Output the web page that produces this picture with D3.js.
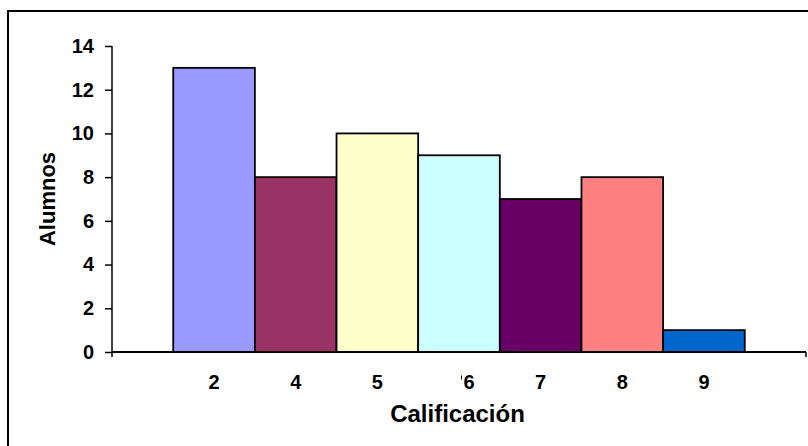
<!DOCTYPE html>
<html>
<head>
<meta charset="utf-8">
<script src="https://cdn.jsdelivr.net/npm/d3@7"></script>
<style>
  html, body { margin: 0; padding: 0; background: #fff; }
  svg { display: block; }
  text { font-family: "Liberation Sans", Arial, sans-serif; font-weight: bold; fill: #000; }
</style>
</head>
<body>
<svg id="chart" width="808" height="446"></svg>
<script>
const categories = ["2", "4", "5", "6", "7", "8", "9"];
const alumnos = [13, 8, 10, 9, 7, 8, 1];
const barColors = ["#9999FF", "#993366", "#FFFFCC", "#CCFFFF", "#660066", "#FF8080", "#0066CC"];
const yTicks = [0, 2, 4, 6, 8, 10, 12, 14];
const xTitle = "Calificación";
const yTitle = "Alumnos";

const svg = d3.select("#chart");

// outer chart frame (extends past the visible area on right and bottom)
svg.append("rect")
  .attr("x", 8).attr("y", 11)
  .attr("width", 900).attr("height", 600)
  .attr("fill", "none").attr("stroke", "#000").attr("stroke-width", 2);

const plotLeft = 112, plotRight = 806, plotTop = 46, plotBottom = 352;

const x = d3.scaleBand().domain(categories).range([plotLeft, plotRight])
  .paddingInner(0).paddingOuter(0.75);
const y = d3.scaleLinear().domain([0, 14]).range([plotBottom, plotTop]);

// bars
svg.append("g").selectAll("rect").data(categories).join("rect")
  .attr("x", d => x(d))
  .attr("y", (d, i) => y(alumnos[i]))
  .attr("width", x.bandwidth())
  .attr("height", (d, i) => y(0) - y(alumnos[i]))
  .attr("fill", (d, i) => barColors[i])
  .attr("stroke", "#000").attr("stroke-width", 1.8);

// y axis
const yAxis = svg.append("g")
  .attr("transform", `translate(${plotLeft},0)`)
  .call(d3.axisLeft(y).tickValues(yTicks).tickSize(7).tickPadding(11).tickFormat(d3.format("d")));
yAxis.select(".domain").remove();
yAxis.selectAll(".tick line").attr("stroke", "#000").attr("stroke-width", 1.5);
yAxis.selectAll(".tick text").attr("font-size", 20);
svg.append("line")
  .attr("x1", plotLeft).attr("x2", plotLeft)
  .attr("y1", y(14)).attr("y2", y(0) + 5)
  .attr("stroke", "#000").attr("stroke-width", 1.5);

// x axis
svg.append("line")
  .attr("x1", plotLeft).attr("x2", plotRight)
  .attr("y1", y(0)).attr("y2", y(0))
  .attr("stroke", "#000").attr("stroke-width", 2);
svg.append("line")
  .attr("x1", plotRight).attr("x2", plotRight)
  .attr("y1", y(0)).attr("y2", y(0) + 5)
  .attr("stroke", "#000").attr("stroke-width", 1.5);

// category labels
svg.append("g").selectAll("text").data(categories).join("text")
  .attr("x", d => x(d) + x.bandwidth() / 2 + (d === "6" ? 10 : 0))
  .attr("y", 389)
  .attr("text-anchor", "middle")
  .attr("font-size", 20)
  .text(d => d);
// small stray mark before the "6" label, as in the original
svg.append("line")
  .attr("x1", x("6") + x.bandwidth() / 2 + 2.5).attr("x2", x("6") + x.bandwidth() / 2 + 2.5)
  .attr("y1", 375.5).attr("y2", 379.5)
  .attr("stroke", "#000").attr("stroke-width", 1);

// axis titles
svg.append("text")
  .attr("x", (plotLeft + plotRight) / 2 - 1.5)
  .attr("y", 421.5)
  .attr("text-anchor", "middle")
  .attr("font-size", 24)
  .text(xTitle);
svg.append("text")
  .attr("transform", "translate(54.5,199) rotate(-90)")
  .attr("text-anchor", "middle")
  .attr("font-size", 22)
  .text(yTitle);
</script>
</body>
</html>
